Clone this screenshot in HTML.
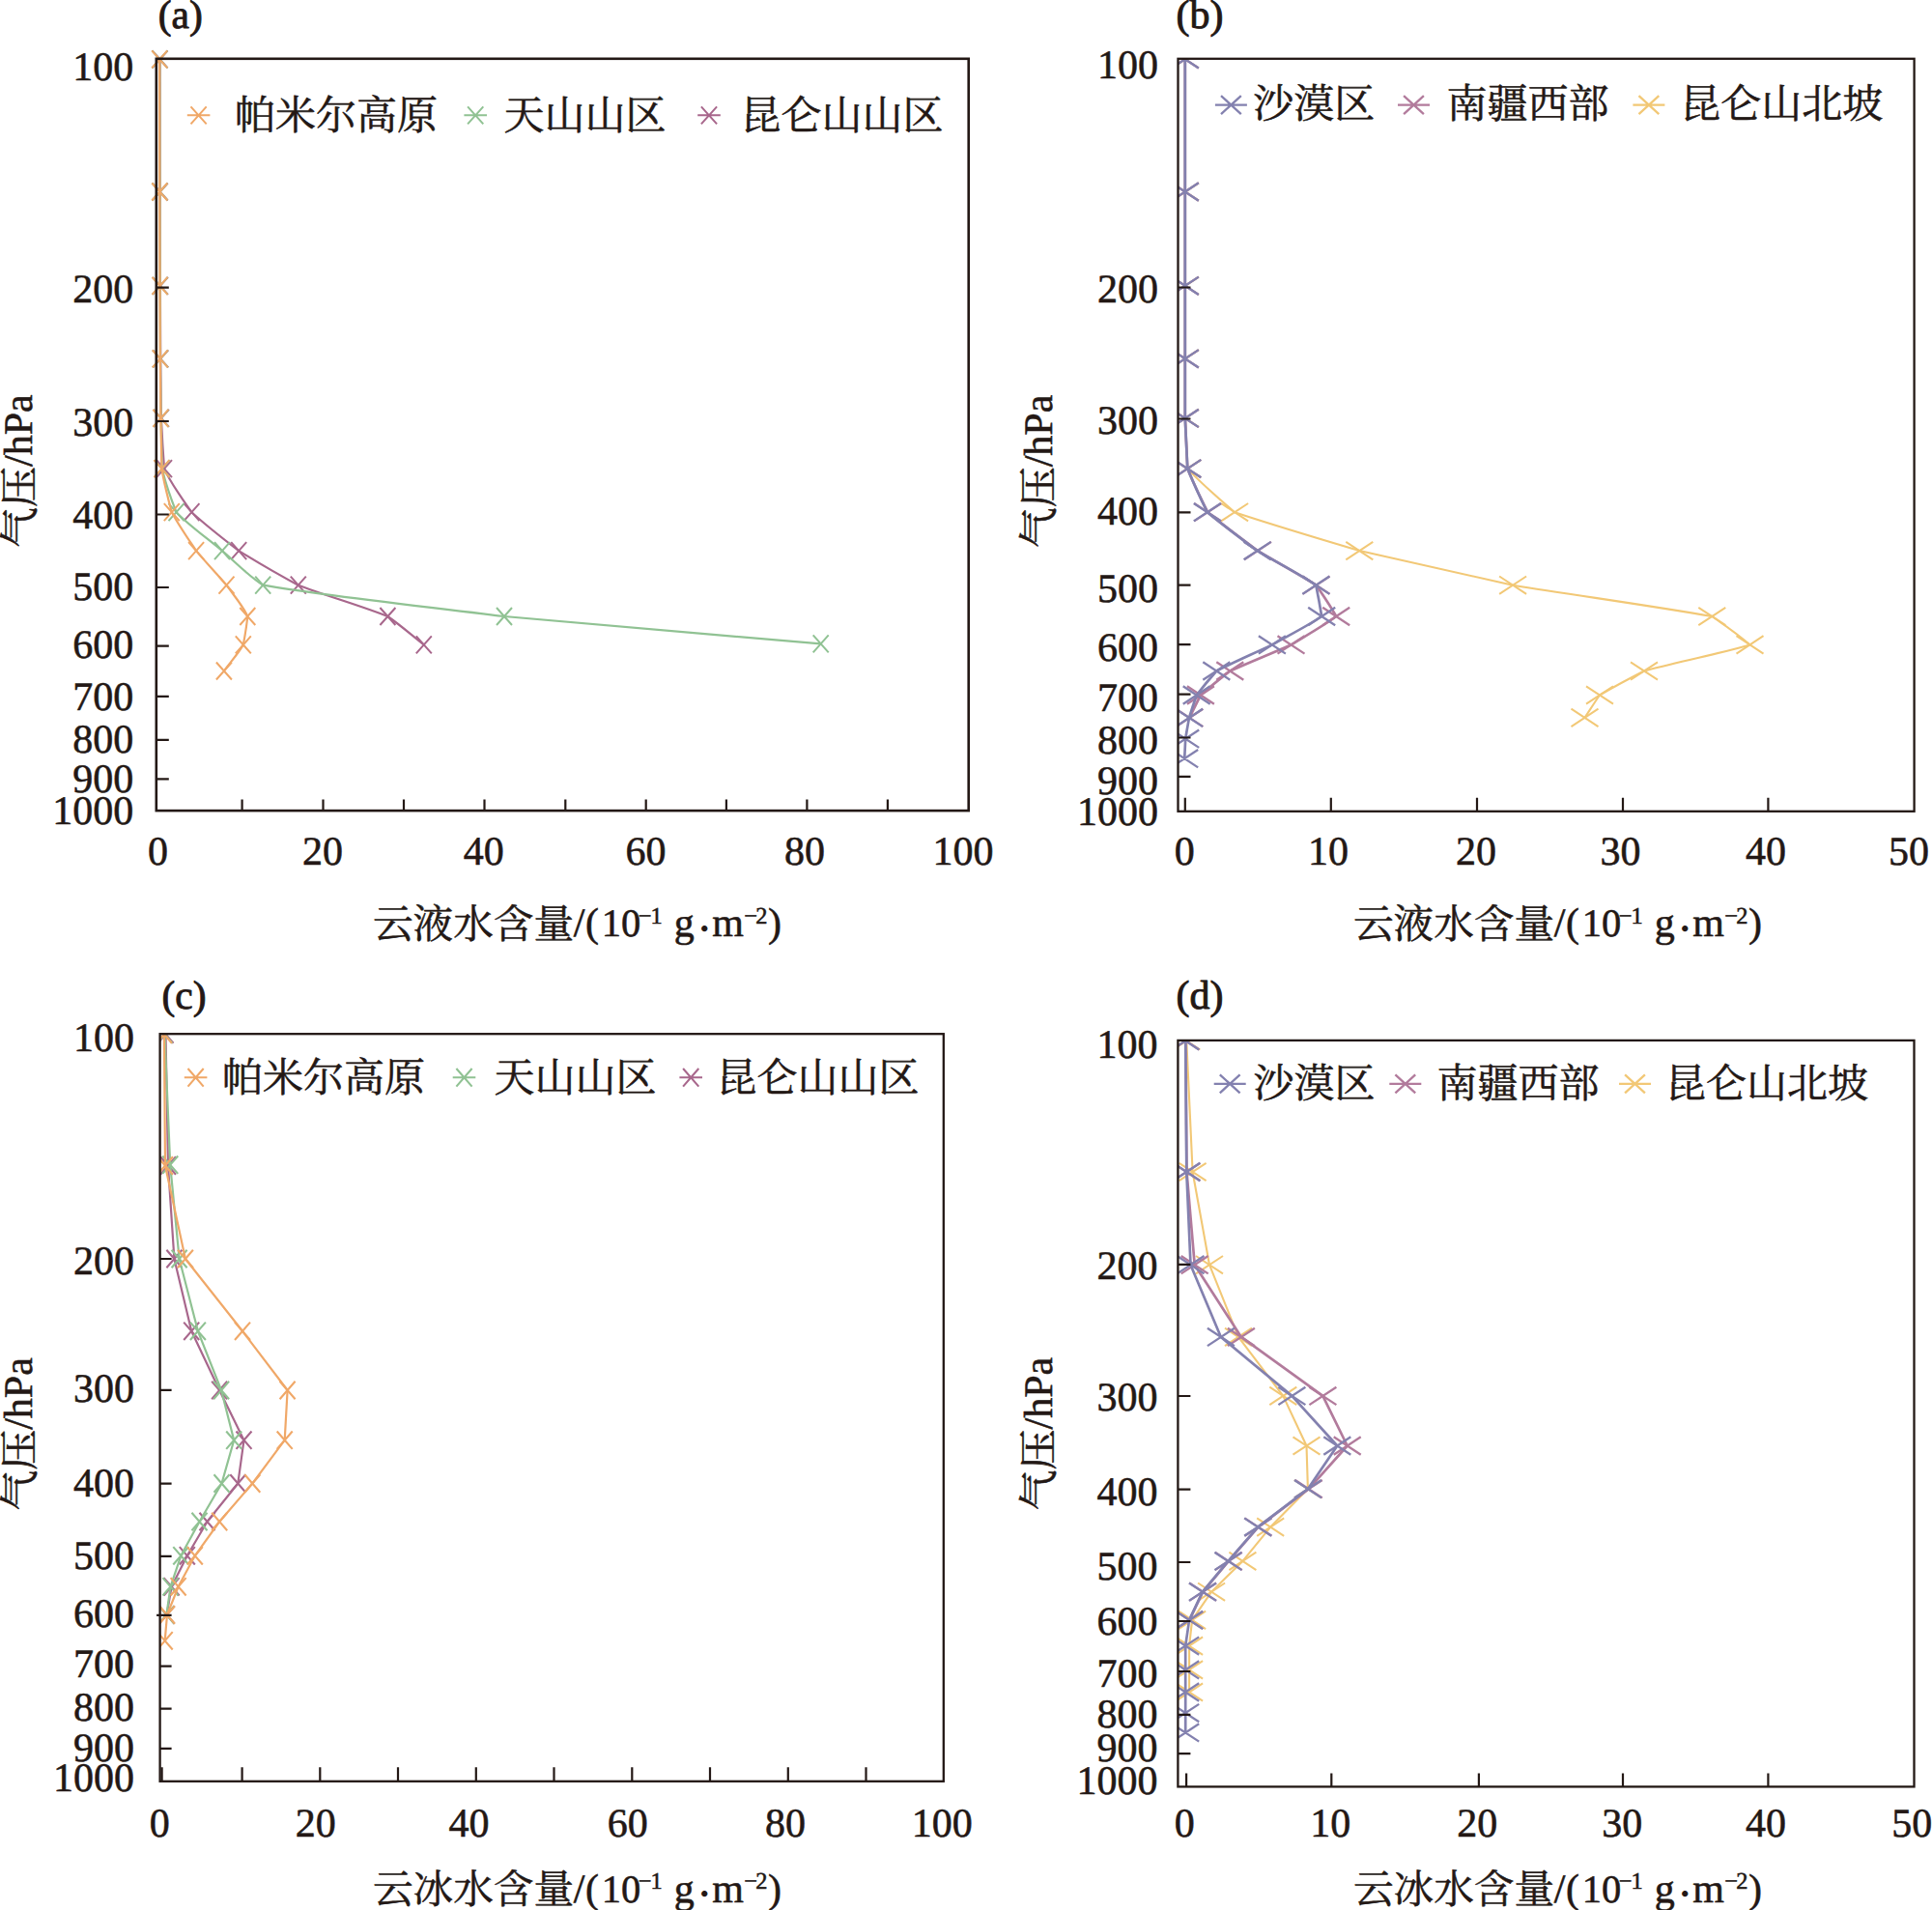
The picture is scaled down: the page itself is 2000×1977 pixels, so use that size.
<!DOCTYPE html>
<html lang="zh-CN"><head><meta charset="utf-8"><title>云液水含量与云冰水含量垂直廓线</title>
<style>html,body{margin:0;padding:0;background:#fff}body{width:2000px;height:1977px;overflow:hidden}svg{display:block}text{font-family:'Liberation Serif','Noto Serif CJK SC',serif;fill:#231815;stroke:#231815;stroke-width:0.55px;stroke-linejoin:round;text-rendering:geometricPrecision}</style></head><body>
<svg width="2000" height="1977" viewBox="0 0 2000 1977">
<rect width="2000" height="1977" fill="#fff"/>
<g id="panel-a">
<g>
<path d="M165.6 61.3 C165.6 107 165.7 152.7 165.7 198.5 C165.8 230.9 165.8 263.3 165.9 295.8 C166 320.9 166.1 346.1 166.2 371.3 C166.4 391.8 166.6 412.4 166.9 432.9 C167.7 450.3 168.7 467.7 170 485.1 C176.7 500.1 187.8 515.2 198.4 530.2 C212.9 543.5 229.9 556.8 247.2 570.1 C266.5 582 286.4 593.8 308.8 605.7 C337 616.5 374.7 627.2 401.4 638 C415.5 647.8 426.3 657.6 438.8 667.4" fill="none" stroke="#A8678C" stroke-width="2.2" stroke-linejoin="round"/>
<path d="M157.6 52.3L173.6 70.3M157.6 70.3L173.6 52.3M157.7 189.5L173.7 207.5M157.7 207.5L173.7 189.5M157.9 286.8L173.9 304.8M157.9 304.8L173.9 286.8M158.2 362.3L174.2 380.3M158.2 380.3L174.2 362.3M158.9 423.9L174.9 441.9M158.9 441.9L174.9 423.9M162 476.1L178 494.1M162 494.1L178 476.1M190.4 521.2L206.4 539.2M190.4 539.2L206.4 521.2M239.2 561.1L255.2 579.1M239.2 579.1L255.2 561.1M300.8 596.7L316.8 614.7M300.8 614.7L316.8 596.7M393.4 629L409.4 647M393.4 647L409.4 629M430.8 658.4L446.8 676.4M430.8 676.4L446.8 658.4" fill="none" stroke="#A8678C" stroke-width="2.0"/>
<path d="M165.4 61.3 C165.4 107 165.5 152.7 165.5 198.5 C165.6 230.9 165.6 263.3 165.7 295.8 C165.8 320.9 165.9 346.1 166 371.3 C166.2 391.8 166.4 412.4 166.6 432.9 C166.9 450.3 167.3 467.7 167.8 485.1 C171.2 500.1 176.6 515.2 182.5 530.2 C195.2 543.5 214.2 556.8 230 570.1 C244.1 582 254.4 593.8 272.2 605.7 C334.1 616.5 432.9 627.2 522 638 C623.9 647.4 740.5 656.9 849.7 666.4" fill="none" stroke="#90C293" stroke-width="2.2" stroke-linejoin="round"/>
<path d="M157.4 52.3L173.4 70.3M157.4 70.3L173.4 52.3M157.5 189.5L173.5 207.5M157.5 207.5L173.5 189.5M157.7 286.8L173.7 304.8M157.7 304.8L173.7 286.8M158 362.3L174 380.3M158 380.3L174 362.3M158.6 423.9L174.6 441.9M158.6 441.9L174.6 423.9M159.8 476.1L175.8 494.1M159.8 494.1L175.8 476.1M174.5 521.2L190.5 539.2M174.5 539.2L190.5 521.2M222 561.1L238 579.1M222 579.1L238 561.1M264.2 596.7L280.2 614.7M264.2 614.7L280.2 596.7M514 629L530 647M514 647L530 629M841.7 657.4L857.7 675.4M841.7 675.4L857.7 657.4" fill="none" stroke="#90C293" stroke-width="2.0"/>
<path d="M165.2 61.3 C165.2 107 165.3 152.7 165.3 198.5 C165.4 230.9 165.4 263.3 165.5 295.8 C165.6 320.9 165.7 346.1 165.8 371.3 C166 391.8 166.2 412.4 166.4 432.9 C166.7 450.3 167 467.7 167.4 485.1 C169.8 500.1 173.7 515.2 177.8 530.2 C184.9 543.5 194.2 556.8 203.1 570.1 C213 582 224.5 593.8 234.5 605.7 C242.1 616.5 251.6 627.2 256.3 638 C255.3 647.8 253.7 657.6 251.8 667.4 C246.7 676.4 238.5 685.5 231.9 694.5" fill="none" stroke="#F0A868" stroke-width="2.2" stroke-linejoin="round"/>
<path d="M157.2 52.3L173.2 70.3M157.2 70.3L173.2 52.3M157.3 189.5L173.3 207.5M157.3 207.5L173.3 189.5M157.5 286.8L173.5 304.8M157.5 304.8L173.5 286.8M157.8 362.3L173.8 380.3M157.8 380.3L173.8 362.3M158.4 423.9L174.4 441.9M158.4 441.9L174.4 423.9M159.4 476.1L175.4 494.1M159.4 494.1L175.4 476.1M169.8 521.2L185.8 539.2M169.8 539.2L185.8 521.2M195.1 561.1L211.1 579.1M195.1 579.1L211.1 561.1M226.5 596.7L242.5 614.7M226.5 614.7L242.5 596.7M248.3 629L264.3 647M248.3 647L264.3 629M243.8 658.4L259.8 676.4M243.8 676.4L259.8 658.4M223.9 685.5L239.9 703.5M223.9 703.5L239.9 685.5" fill="none" stroke="#F0A868" stroke-width="2.0"/>
</g>
<rect x="161.8" y="60.8" width="840.9" height="778.3" fill="none" stroke="#231815" stroke-width="2.6"/>
<path d="M161.8 297.7H174.8M161.8 436H174.8M161.8 532.5H174.8M161.8 608H174.8M161.8 668.7H174.8M161.8 720.8H174.8M161.8 765.9H174.8M161.8 806.3H174.8M250.6 839.1V827.5M334.5 839.1V827.5M418 839.1V827.5M501.5 839.1V827.5M585.3 839.1V827.5M668.7 839.1V827.5M751.9 839.1V827.5M835.4 839.1V827.5M918.9 839.1V827.5" fill="none" stroke="#231815" stroke-width="2.2"/>
<text x="138.3" y="83.1" font-size="42" text-anchor="end">100</text>
<text x="138.3" y="312.7" font-size="42" text-anchor="end">200</text>
<text x="138.3" y="451.2" font-size="42" text-anchor="end">300</text>
<text x="138.3" y="546.8" font-size="42" text-anchor="end">400</text>
<text x="138.3" y="621.1" font-size="42" text-anchor="end">500</text>
<text x="138.3" y="680.6" font-size="42" text-anchor="end">600</text>
<text x="138.3" y="735" font-size="42" text-anchor="end">700</text>
<text x="138.3" y="779.4" font-size="42" text-anchor="end">800</text>
<text x="138.3" y="819.6" font-size="42" text-anchor="end">900</text>
<text x="138.3" y="853.1" font-size="42" text-anchor="end">1000</text>
<text x="163.6" y="895.3" font-size="42" text-anchor="middle">0</text>
<text x="334" y="895.3" font-size="42" text-anchor="middle">20</text>
<text x="500.7" y="895.3" font-size="42" text-anchor="middle">40</text>
<text x="668.4" y="895.3" font-size="42" text-anchor="middle">60</text>
<text x="832.9" y="895.3" font-size="42" text-anchor="middle">80</text>
<text x="997.1" y="895.3" font-size="42" text-anchor="middle">100</text>
<text x="163.8" y="29.3" font-size="41.5" text-anchor="start" style="stroke-width:0.9px">(a)</text>
<text transform="translate(33.2 487.7) rotate(-90)" font-size="42" text-anchor="middle"><tspan dy="1.8">气压</tspan><tspan dy="-1.8">/hPa</tspan></text>
<text font-size="42"><tspan x="386" y="970.9" font-size="41.6">云液水含量</tspan><tspan x="593.8" y="969.4">/</tspan><tspan x="605.9">(</tspan><tspan x="622.8" font-size="40.5">10</tspan><tspan x="660.7" y="955.7" font-size="24.4">−</tspan><tspan x="673.5" font-size="24.4">1</tspan><tspan x="697.7" y="969.4">g</tspan><tspan x="722.2" y="975" stroke-width="1.3">·</tspan><tspan x="737.2" y="969.4">m</tspan><tspan x="770.2" y="955.7" font-size="24.4">−</tspan><tspan x="782.3" font-size="24.4">2</tspan><tspan x="795.1" y="969.4">)</tspan></text>
<path d="M193.8 119.3L217.4 119.3M197.5 110.3L213.7 128.3M197.5 128.3L213.7 110.3" fill="none" stroke="#F0A868" stroke-width="2.0"/>
<text x="243" y="133.5" font-size="42" text-anchor="start">帕米尔高原</text>
<path d="M480.4 119.3L504 119.3M484.1 110.3L500.3 128.3M484.1 128.3L500.3 110.3" fill="none" stroke="#90C293" stroke-width="2.0"/>
<text x="521.5" y="133.5" font-size="42" text-anchor="start">天山山区</text>
<path d="M722.2 119.3L745.8 119.3M725.9 110.3L742.1 128.3M725.9 128.3L742.1 110.3" fill="none" stroke="#A8678C" stroke-width="2.0"/>
<text x="766.5" y="133.5" font-size="42" text-anchor="start">昆仑山山区</text>
</g>
<g id="panel-b">
<clipPath id="clipb"><rect x="1219.5" y="60.8" width="762.1" height="819"/></clipPath>
<g clip-path="url(#clipb)">
<path d="M1226.9 61.3 C1226.9 107 1226.9 152.7 1226.9 198.5 C1226.9 230.9 1226.9 263.3 1226.9 295.8 C1226.9 320.9 1226.9 346.1 1226.9 371.3 C1226.9 391.8 1226.9 412.4 1226.9 432.9 C1227.6 450.3 1228.4 467.7 1229.3 485.1 C1243.3 500.1 1260.6 515.2 1278.1 530.2 C1318 543.5 1363.2 556.8 1407.3 570.1 C1459 582 1511.7 593.8 1566.1 605.7 C1633 616.5 1710.4 627.2 1772.3 638 C1786.6 647.8 1800.4 657.6 1811.5 667.4 C1780.5 676.4 1736.4 685.5 1702 694.5 C1685.8 702.8 1670.2 711.2 1656 719.5 C1650.5 727.3 1645.7 735.1 1640.5 742.9" fill="none" stroke="#F2C876" stroke-width="2.1" stroke-linejoin="round"/>
<path d="M1212.9 52.1L1240.9 70.5M1212.9 70.5L1240.9 52.1M1212.9 189.3L1240.9 207.7M1212.9 207.7L1240.9 189.3M1212.9 286.6L1240.9 305M1212.9 305L1240.9 286.6M1212.9 362.1L1240.9 380.5M1212.9 380.5L1240.9 362.1M1212.9 423.7L1240.9 442.1M1212.9 442.1L1240.9 423.7M1215.3 475.9L1243.3 494.3M1215.3 494.3L1243.3 475.9M1264.1 521L1292.1 539.4M1264.1 539.4L1292.1 521M1393.3 560.9L1421.3 579.3M1393.3 579.3L1421.3 560.9M1552.1 596.5L1580.1 614.9M1552.1 614.9L1580.1 596.5M1758.3 628.8L1786.3 647.2M1758.3 647.2L1786.3 628.8M1797.5 658.2L1825.5 676.6M1797.5 676.6L1825.5 658.2M1688 685.3L1716 703.7M1688 703.7L1716 685.3M1642 710.3L1670 728.7M1642 728.7L1670 710.3M1626.5 733.7L1654.5 752.1M1626.5 752.1L1654.5 733.7" fill="none" stroke="#F2C876" stroke-width="2.0"/>
<path d="M1226.8 61.3 C1226.8 107 1226.8 152.7 1226.8 198.5 C1226.8 230.9 1226.8 263.3 1226.8 295.8 C1226.8 320.9 1226.8 346.1 1226.8 371.3 C1226.8 391.8 1226.8 412.4 1226.8 432.9 C1227.5 450.3 1228.4 467.7 1229.3 485.1 C1235.4 500.1 1242.7 515.2 1250.2 530.2 C1266.2 543.5 1284.4 556.8 1302 570.1 C1321.8 582 1343.8 593.8 1362.6 605.7 C1369.9 616.5 1377.4 627.2 1383.2 638 C1370 647.8 1352.5 657.6 1336.5 667.4 C1316 676.4 1293.4 685.5 1273.3 694.5 C1262.7 702.8 1252.4 711.2 1242.9 719.5 C1238.8 727.3 1235.2 735.1 1231.4 742.9" fill="none" stroke="#B27B9C" stroke-width="2.7" stroke-linejoin="round"/>
<path d="M1212.8 52.1L1240.8 70.5M1212.8 70.5L1240.8 52.1M1212.8 189.3L1240.8 207.7M1212.8 207.7L1240.8 189.3M1212.8 286.6L1240.8 305M1212.8 305L1240.8 286.6M1212.8 362.1L1240.8 380.5M1212.8 380.5L1240.8 362.1M1212.8 423.7L1240.8 442.1M1212.8 442.1L1240.8 423.7M1215.3 475.9L1243.3 494.3M1215.3 494.3L1243.3 475.9M1236.2 521L1264.2 539.4M1236.2 539.4L1264.2 521M1288 560.9L1316 579.3M1288 579.3L1316 560.9M1348.6 596.5L1376.6 614.9M1348.6 614.9L1376.6 596.5M1369.2 628.8L1397.2 647.2M1369.2 647.2L1397.2 628.8M1322.5 658.2L1350.5 676.6M1322.5 676.6L1350.5 658.2M1259.3 685.3L1287.3 703.7M1259.3 703.7L1287.3 685.3M1228.9 710.3L1256.9 728.7M1228.9 728.7L1256.9 710.3M1217.4 733.7L1245.4 752.1M1217.4 752.1L1245.4 733.7" fill="none" stroke="#B27B9C" stroke-width="2.3"/>
<path d="M1226.8 61.3 C1226.8 107 1226.8 152.7 1226.8 198.5 C1226.8 230.9 1226.8 263.3 1226.8 295.8 C1226.8 320.9 1226.8 346.1 1226.8 371.3 C1226.8 391.8 1226.8 412.4 1226.8 432.9 C1227.5 450.3 1228.4 467.7 1229.3 485.1 C1235.3 500.1 1242.5 515.2 1249.8 530.2 C1265.8 543.5 1284 556.8 1301.6 570.1 C1321.4 582 1344.5 593.8 1362.3 605.7 C1364.5 616.5 1366.5 627.2 1368.2 638 C1353.7 647.8 1334.3 657.6 1316.9 667.4 C1298 676.4 1277.2 685.5 1259.3 694.5 C1252 702.8 1245.1 711.2 1238.7 719.5 C1236 727.3 1233.4 735.1 1231 742.9 C1229.7 750.2 1228.4 757.4 1227.2 764.7 C1226.8 771.6 1226.5 778.4 1226.2 785.2" fill="none" stroke="#8381AF" stroke-width="2.7" stroke-linejoin="round"/>
<path d="M1212.8 52.1L1240.8 70.5M1212.8 70.5L1240.8 52.1M1212.8 189.3L1240.8 207.7M1212.8 207.7L1240.8 189.3M1212.8 286.6L1240.8 305M1212.8 305L1240.8 286.6M1212.8 362.1L1240.8 380.5M1212.8 380.5L1240.8 362.1M1212.8 423.7L1240.8 442.1M1212.8 442.1L1240.8 423.7M1215.3 475.9L1243.3 494.3M1215.3 494.3L1243.3 475.9M1235.8 521L1263.8 539.4M1235.8 539.4L1263.8 521M1287.6 560.9L1315.6 579.3M1287.6 579.3L1315.6 560.9M1348.3 596.5L1376.3 614.9M1348.3 614.9L1376.3 596.5M1354.2 628.8L1382.2 647.2M1354.2 647.2L1382.2 628.8M1302.9 658.2L1330.9 676.6M1302.9 676.6L1330.9 658.2M1245.3 685.3L1273.3 703.7M1245.3 703.7L1273.3 685.3M1224.7 710.3L1252.7 728.7M1224.7 728.7L1252.7 710.3M1217 733.7L1245 752.1M1217 752.1L1245 733.7M1213.2 755.5L1241.2 773.9M1213.2 773.9L1241.2 755.5M1212.2 776L1240.2 794.4M1212.2 794.4L1240.2 776" fill="none" stroke="#8381AF" stroke-width="2.3"/>
</g>
<rect x="1219.5" y="60.8" width="762.1" height="779" fill="none" stroke="#231815" stroke-width="2.3"/>
<path d="M1219.5 297.5H1232.5M1219.5 433.5H1232.5M1219.5 530.4H1232.5M1219.5 605.6H1232.5M1219.5 667.2H1232.5M1219.5 718.7H1232.5M1219.5 763.5H1232.5M1219.5 803.9H1232.5M1226.8 839.8V825.8M1377.8 839.8V825.8M1529 839.8V825.8M1680 839.8V825.8M1830.4 839.8V825.8" fill="none" stroke="#231815" stroke-width="2.2"/>
<text x="1199" y="80.5" font-size="42" text-anchor="end">100</text>
<text x="1199" y="312.8" font-size="42" text-anchor="end">200</text>
<text x="1199" y="449.3" font-size="42" text-anchor="end">300</text>
<text x="1199" y="543.1" font-size="42" text-anchor="end">400</text>
<text x="1199" y="622.8" font-size="42" text-anchor="end">500</text>
<text x="1199" y="683.9" font-size="42" text-anchor="end">600</text>
<text x="1199" y="736.3" font-size="42" text-anchor="end">700</text>
<text x="1199" y="780.2" font-size="42" text-anchor="end">800</text>
<text x="1199" y="821.7" font-size="42" text-anchor="end">900</text>
<text x="1199" y="853.5" font-size="42" text-anchor="end">1000</text>
<text x="1226.2" y="895.3" font-size="42" text-anchor="middle">0</text>
<text x="1375" y="895.3" font-size="42" text-anchor="middle">10</text>
<text x="1527.9" y="895.3" font-size="42" text-anchor="middle">20</text>
<text x="1677.6" y="895.3" font-size="42" text-anchor="middle">30</text>
<text x="1827.9" y="895.3" font-size="42" text-anchor="middle">40</text>
<text x="1975.9" y="895.3" font-size="42" text-anchor="middle">50</text>
<text x="1217.5" y="29" font-size="42" text-anchor="start" style="stroke-width:0.9px">(b)</text>
<text transform="translate(1088.5 488) rotate(-90)" font-size="42" text-anchor="middle"><tspan dy="1.8">气压</tspan><tspan dy="-1.8">/hPa</tspan></text>
<text font-size="42"><tspan x="1401" y="970.9" font-size="41.6">云液水含量</tspan><tspan x="1608.8" y="969.4">/</tspan><tspan x="1620.9">(</tspan><tspan x="1637.8" font-size="40.5">10</tspan><tspan x="1675.7" y="955.7" font-size="24.4">−</tspan><tspan x="1688.5" font-size="24.4">1</tspan><tspan x="1712.7" y="969.4">g</tspan><tspan x="1737.2" y="975" stroke-width="1.3">·</tspan><tspan x="1752.2" y="969.4">m</tspan><tspan x="1785.2" y="955.7" font-size="24.4">−</tspan><tspan x="1797.3" font-size="24.4">2</tspan><tspan x="1810.1" y="969.4">)</tspan></text>
<path d="M1257.9 108.6L1290.9 108.6M1264 99.1L1284.8 118.1M1264 118.1L1284.8 99.1" fill="none" stroke="#8381AF" stroke-width="2.3"/>
<text x="1297.2" y="122.2" font-size="42" text-anchor="start">沙漠区</text>
<path d="M1447 108.6L1480 108.6M1453.1 99.1L1473.9 118.1M1453.1 118.1L1473.9 99.1" fill="none" stroke="#B27B9C" stroke-width="2.3"/>
<text x="1497.5" y="122.2" font-size="42" text-anchor="start">南疆西部</text>
<path d="M1690.4 108.6L1723.4 108.6M1696.5 99.1L1717.3 118.1M1696.5 118.1L1717.3 99.1" fill="none" stroke="#F2C876" stroke-width="2.3"/>
<text x="1739.3" y="122.2" font-size="42" text-anchor="start">昆仑山北坡</text>
</g>
<g id="panel-c">
<clipPath id="clipc"><rect x="165.6" y="1070.2" width="811.2" height="813.6"/></clipPath>
<g clip-path="url(#clipc)">
<path d="M171.5 1070.5 L174 1206.5 L180.4 1303 L198.2 1377.8 L227.2 1439 L252.5 1490.7 L246.3 1535.5 L214.5 1575 L193.8 1610.3 L177.6 1642.3 L172.6 1671.5" fill="none" stroke="#A8678C" stroke-width="2.2" stroke-linejoin="round"/>
<path d="M163.5 1061.3L179.5 1079.7M163.5 1079.7L179.5 1061.3M166 1197.3L182 1215.7M166 1215.7L182 1197.3M172.4 1293.8L188.4 1312.2M172.4 1312.2L188.4 1293.8M190.2 1368.6L206.2 1387M190.2 1387L206.2 1368.6M219.2 1429.8L235.2 1448.2M219.2 1448.2L235.2 1429.8M244.5 1481.5L260.5 1499.9M244.5 1499.9L260.5 1481.5M238.3 1526.3L254.3 1544.7M238.3 1544.7L254.3 1526.3M206.5 1565.8L222.5 1584.2M206.5 1584.2L222.5 1565.8M185.8 1601.1L201.8 1619.5M185.8 1619.5L201.8 1601.1M169.6 1633.1L185.6 1651.5M169.6 1651.5L185.6 1633.1M164.6 1662.3L180.6 1680.7M164.6 1680.7L180.6 1662.3" fill="none" stroke="#A8678C" stroke-width="2.1"/>
<path d="M170.5 1070.5 L176.2 1205.7 L185.6 1303 L204.9 1377.8 L229.1 1439 L242.2 1490.7 L229.5 1535.5 L206.5 1575 L187.3 1610.3 L176.5 1642.3 L172.4 1671.5" fill="none" stroke="#90C293" stroke-width="2.2" stroke-linejoin="round"/>
<path d="M162.5 1061.3L178.5 1079.7M162.5 1079.7L178.5 1061.3M168.2 1196.5L184.2 1214.9M168.2 1214.9L184.2 1196.5M177.6 1293.8L193.6 1312.2M177.6 1312.2L193.6 1293.8M196.9 1368.6L212.9 1387M196.9 1387L212.9 1368.6M221.1 1429.8L237.1 1448.2M221.1 1448.2L237.1 1429.8M234.2 1481.5L250.2 1499.9M234.2 1499.9L250.2 1481.5M221.5 1526.3L237.5 1544.7M221.5 1544.7L237.5 1526.3M198.5 1565.8L214.5 1584.2M198.5 1584.2L214.5 1565.8M179.3 1601.1L195.3 1619.5M179.3 1619.5L195.3 1601.1M168.5 1633.1L184.5 1651.5M168.5 1651.5L184.5 1633.1M164.4 1662.3L180.4 1680.7M164.4 1680.7L180.4 1662.3" fill="none" stroke="#90C293" stroke-width="2.1"/>
<path d="M169.9 1070.5 L171 1206.5 L191.9 1303 L251 1377.8 L297.6 1439 L294.7 1490.7 L261.3 1535.5 L227.2 1575 L201.8 1610.3 L184.6 1642.3 L173 1671.5 L170.7 1698.3" fill="none" stroke="#F0A868" stroke-width="2.2" stroke-linejoin="round"/>
<path d="M161.9 1061.3L177.9 1079.7M161.9 1079.7L177.9 1061.3M163 1197.3L179 1215.7M163 1215.7L179 1197.3M183.9 1293.8L199.9 1312.2M183.9 1312.2L199.9 1293.8M243 1368.6L259 1387M243 1387L259 1368.6M289.6 1429.8L305.6 1448.2M289.6 1448.2L305.6 1429.8M286.7 1481.5L302.7 1499.9M286.7 1499.9L302.7 1481.5M253.3 1526.3L269.3 1544.7M253.3 1544.7L269.3 1526.3M219.2 1565.8L235.2 1584.2M219.2 1584.2L235.2 1565.8M193.8 1601.1L209.8 1619.5M193.8 1619.5L209.8 1601.1M176.6 1633.1L192.6 1651.5M176.6 1651.5L192.6 1633.1M165 1662.3L181 1680.7M165 1680.7L181 1662.3M162.7 1689.1L178.7 1707.5M162.7 1707.5L178.7 1689.1" fill="none" stroke="#F0A868" stroke-width="2.1"/>
</g>
<rect x="165.6" y="1070.2" width="811.2" height="773.6" fill="none" stroke="#231815" stroke-width="2.3"/>
<path d="M165.6 1303H177.6M165.6 1438.9H177.6M165.6 1535.7H177.6M165.6 1610.8H177.6M162.1 1671.8H177.6M165.6 1724.6H177.6M165.6 1768.6H177.6M165.6 1809.9H177.6M167.6 1843.8V1829.3M250.6 1843.8V1829.3M331.3 1843.8V1829.3M412 1843.8V1829.3M492.8 1843.8V1829.3M573.5 1843.8V1829.3M654.3 1843.8V1829.3M735 1843.8V1829.3M815.8 1843.8V1829.3M896.5 1843.8V1829.3" fill="none" stroke="#231815" stroke-width="2.2"/>
<text x="139" y="1088" font-size="42" text-anchor="end">100</text>
<text x="139" y="1318.6" font-size="42" text-anchor="end">200</text>
<text x="139" y="1451" font-size="42" text-anchor="end">300</text>
<text x="139" y="1549" font-size="42" text-anchor="end">400</text>
<text x="139" y="1624.1" font-size="42" text-anchor="end">500</text>
<text x="139" y="1683.8" font-size="42" text-anchor="end">600</text>
<text x="139" y="1736.1" font-size="42" text-anchor="end">700</text>
<text x="139" y="1781.2" font-size="42" text-anchor="end">800</text>
<text x="139" y="1822.6" font-size="42" text-anchor="end">900</text>
<text x="139" y="1854" font-size="42" text-anchor="end">1000</text>
<text x="165.3" y="1900.8" font-size="42" text-anchor="middle">0</text>
<text x="326.8" y="1900.8" font-size="42" text-anchor="middle">20</text>
<text x="485.4" y="1900.8" font-size="42" text-anchor="middle">40</text>
<text x="649.7" y="1900.8" font-size="42" text-anchor="middle">60</text>
<text x="813" y="1900.8" font-size="42" text-anchor="middle">80</text>
<text x="975.3" y="1900.8" font-size="42" text-anchor="middle">100</text>
<text x="167.5" y="1043.5" font-size="41.5" text-anchor="start" style="stroke-width:0.9px">(c)</text>
<text transform="translate(33.2 1484.5) rotate(-90)" font-size="42" text-anchor="middle"><tspan dy="1.8">气压</tspan><tspan dy="-1.8">/hPa</tspan></text>
<text font-size="42"><tspan x="386" y="1970.3" font-size="41.6">云冰水含量</tspan><tspan x="593.8" y="1968.8">/</tspan><tspan x="605.9">(</tspan><tspan x="622.8" font-size="40.5">10</tspan><tspan x="660.7" y="1955.1" font-size="24.4">−</tspan><tspan x="673.5" font-size="24.4">1</tspan><tspan x="697.7" y="1968.8">g</tspan><tspan x="722.2" y="1974.4" stroke-width="1.3">·</tspan><tspan x="737.2" y="1968.8">m</tspan><tspan x="770.2" y="1955.1" font-size="24.4">−</tspan><tspan x="782.3" font-size="24.4">2</tspan><tspan x="795.1" y="1968.8">)</tspan></text>
<path d="M190.8 1115.3L214.4 1115.3M194.5 1106L210.7 1124.6M194.5 1124.6L210.7 1106" fill="none" stroke="#F0A868" stroke-width="2.1"/>
<text x="230" y="1129.5" font-size="42" text-anchor="start">帕米尔高原</text>
<path d="M468.7 1115.3L492.3 1115.3M472.4 1106L488.6 1124.6M472.4 1124.6L488.6 1106" fill="none" stroke="#90C293" stroke-width="2.1"/>
<text x="511.5" y="1129.5" font-size="42" text-anchor="start">天山山区</text>
<path d="M703.4 1115.3L727 1115.3M707.1 1106L723.3 1124.6M707.1 1124.6L723.3 1106" fill="none" stroke="#A8678C" stroke-width="2.1"/>
<text x="741.5" y="1129.5" font-size="42" text-anchor="start">昆仑山山区</text>
</g>
<g id="panel-d">
<clipPath id="clipd"><rect x="1219.4" y="1076.9" width="762.1" height="812.5"/></clipPath>
<g clip-path="url(#clipd)">
<path d="M1228.3 1077.3 L1234.6 1213 L1252 1309.2 L1282 1383.9 L1328.3 1444.9 L1352.5 1496.5 L1353.9 1541.2 L1315.2 1580.6 L1286.4 1615.9 L1254.1 1647.7 L1234.1 1676.9 L1231.1 1703.6 L1231.1 1728.4 L1231.1 1751.5" fill="none" stroke="#F2C876" stroke-width="2.1" stroke-linejoin="round"/>
<path d="M1214.3 1068.1L1242.3 1086.5M1214.3 1086.5L1242.3 1068.1M1220.6 1203.8L1248.6 1222.2M1220.6 1222.2L1248.6 1203.8M1238 1300L1266 1318.4M1238 1318.4L1266 1300M1268 1374.7L1296 1393.1M1268 1393.1L1296 1374.7M1314.3 1435.7L1342.3 1454.1M1314.3 1454.1L1342.3 1435.7M1338.5 1487.3L1366.5 1505.7M1338.5 1505.7L1366.5 1487.3M1339.9 1532L1367.9 1550.4M1339.9 1550.4L1367.9 1532M1301.2 1571.4L1329.2 1589.8M1301.2 1589.8L1329.2 1571.4M1272.4 1606.7L1300.4 1625.1M1272.4 1625.1L1300.4 1606.7M1240.1 1638.5L1268.1 1656.9M1240.1 1656.9L1268.1 1638.5M1220.1 1667.7L1248.1 1686.1M1220.1 1686.1L1248.1 1667.7M1217.1 1694.4L1245.1 1712.8M1217.1 1712.8L1245.1 1694.4M1217.1 1719.2L1245.1 1737.6M1217.1 1737.6L1245.1 1719.2M1217.1 1742.3L1245.1 1760.7M1217.1 1760.7L1245.1 1742.3" fill="none" stroke="#F2C876" stroke-width="2.0"/>
<path d="M1227.4 1077.3 L1228.5 1213 L1236.7 1309.2 L1284.9 1383.9 L1369.4 1444.9 L1394.7 1496.5 L1354.8 1541.2 L1302.5 1580.6 L1271.8 1615.9 L1245.2 1647.7 L1231.3 1676.9" fill="none" stroke="#B27B9C" stroke-width="2.7" stroke-linejoin="round"/>
<path d="M1213.4 1068.1L1241.4 1086.5M1213.4 1086.5L1241.4 1068.1M1214.5 1203.8L1242.5 1222.2M1214.5 1222.2L1242.5 1203.8M1222.7 1300L1250.7 1318.4M1222.7 1318.4L1250.7 1300M1270.9 1374.7L1298.9 1393.1M1270.9 1393.1L1298.9 1374.7M1355.4 1435.7L1383.4 1454.1M1355.4 1454.1L1383.4 1435.7M1380.7 1487.3L1408.7 1505.7M1380.7 1505.7L1408.7 1487.3M1340.8 1532L1368.8 1550.4M1340.8 1550.4L1368.8 1532M1288.5 1571.4L1316.5 1589.8M1288.5 1589.8L1316.5 1571.4M1257.8 1606.7L1285.8 1625.1M1257.8 1625.1L1285.8 1606.7M1231.2 1638.5L1259.2 1656.9M1231.2 1656.9L1259.2 1638.5M1217.3 1667.7L1245.3 1686.1M1217.3 1686.1L1245.3 1667.7" fill="none" stroke="#B27B9C" stroke-width="2.3"/>
<path d="M1227.2 1077.3 L1228.3 1213 L1232.5 1309.2 L1263.9 1383.9 L1337.4 1444.9 L1384.3 1496.5 L1353.9 1541.2 L1302.1 1580.6 L1271.4 1615.9 L1244.9 1647.7 L1231.1 1676.9 L1227.2 1703.6 L1227.2 1728.4 L1227.2 1751.5 L1227.2 1773.1 L1227.2 1793.4" fill="none" stroke="#8381AF" stroke-width="2.7" stroke-linejoin="round"/>
<path d="M1213.2 1068.1L1241.2 1086.5M1213.2 1086.5L1241.2 1068.1M1214.3 1203.8L1242.3 1222.2M1214.3 1222.2L1242.3 1203.8M1218.5 1300L1246.5 1318.4M1218.5 1318.4L1246.5 1300M1249.9 1374.7L1277.9 1393.1M1249.9 1393.1L1277.9 1374.7M1323.4 1435.7L1351.4 1454.1M1323.4 1454.1L1351.4 1435.7M1370.3 1487.3L1398.3 1505.7M1370.3 1505.7L1398.3 1487.3M1339.9 1532L1367.9 1550.4M1339.9 1550.4L1367.9 1532M1288.1 1571.4L1316.1 1589.8M1288.1 1589.8L1316.1 1571.4M1257.4 1606.7L1285.4 1625.1M1257.4 1625.1L1285.4 1606.7M1230.9 1638.5L1258.9 1656.9M1230.9 1656.9L1258.9 1638.5M1217.1 1667.7L1245.1 1686.1M1217.1 1686.1L1245.1 1667.7M1213.2 1694.4L1241.2 1712.8M1213.2 1712.8L1241.2 1694.4M1213.2 1719.2L1241.2 1737.6M1213.2 1737.6L1241.2 1719.2M1213.2 1742.3L1241.2 1760.7M1213.2 1760.7L1241.2 1742.3M1213.2 1763.9L1241.2 1782.3M1213.2 1782.3L1241.2 1763.9M1213.2 1784.2L1241.2 1802.6M1213.2 1802.6L1241.2 1784.2" fill="none" stroke="#8381AF" stroke-width="2.3"/>
</g>
<rect x="1219.4" y="1076.9" width="762.1" height="772.5" fill="none" stroke="#231815" stroke-width="2.3"/>
<path d="M1219.4 1308.9H1232.4M1219.4 1445H1232.4M1219.4 1541.7H1232.4M1219.4 1617H1232.4M1219.4 1678H1232.4M1219.4 1730H1232.4M1219.4 1774.8H1232.4M1219.4 1815.2H1232.4M1228.1 1849.4V1835.4M1378.3 1849.4V1835.4M1530.9 1849.4V1835.4M1680 1849.4V1835.4M1830.4 1849.4V1835.4" fill="none" stroke="#231815" stroke-width="2.2"/>
<text x="1198.5" y="1094.8" font-size="42" text-anchor="end">100</text>
<text x="1198.5" y="1323.7" font-size="42" text-anchor="end">200</text>
<text x="1198.5" y="1460.2" font-size="42" text-anchor="end">300</text>
<text x="1198.5" y="1558.2" font-size="42" text-anchor="end">400</text>
<text x="1198.5" y="1634.7" font-size="42" text-anchor="end">500</text>
<text x="1198.5" y="1692.2" font-size="42" text-anchor="end">600</text>
<text x="1198.5" y="1745.6" font-size="42" text-anchor="end">700</text>
<text x="1198.5" y="1788.1" font-size="42" text-anchor="end">800</text>
<text x="1198.5" y="1822.6" font-size="42" text-anchor="end">900</text>
<text x="1198.5" y="1857.2" font-size="42" text-anchor="end">1000</text>
<text x="1226.2" y="1900.8" font-size="42" text-anchor="middle">0</text>
<text x="1377.3" y="1900.8" font-size="42" text-anchor="middle">10</text>
<text x="1529.3" y="1900.8" font-size="42" text-anchor="middle">20</text>
<text x="1679.3" y="1900.8" font-size="42" text-anchor="middle">30</text>
<text x="1827.9" y="1900.8" font-size="42" text-anchor="middle">40</text>
<text x="1979.3" y="1900.8" font-size="42" text-anchor="middle">50</text>
<text x="1217.5" y="1044.3" font-size="42" text-anchor="start" style="stroke-width:0.9px">(d)</text>
<text transform="translate(1088.5 1484.2) rotate(-90)" font-size="42" text-anchor="middle"><tspan dy="1.8">气压</tspan><tspan dy="-1.8">/hPa</tspan></text>
<text font-size="42"><tspan x="1401" y="1970.3" font-size="41.6">云冰水含量</tspan><tspan x="1608.8" y="1968.8">/</tspan><tspan x="1620.9">(</tspan><tspan x="1637.8" font-size="40.5">10</tspan><tspan x="1675.7" y="1955.1" font-size="24.4">−</tspan><tspan x="1688.5" font-size="24.4">1</tspan><tspan x="1712.7" y="1968.8">g</tspan><tspan x="1737.2" y="1974.4" stroke-width="1.3">·</tspan><tspan x="1752.2" y="1968.8">m</tspan><tspan x="1785.2" y="1955.1" font-size="24.4">−</tspan><tspan x="1797.3" font-size="24.4">2</tspan><tspan x="1810.1" y="1968.8">)</tspan></text>
<path d="M1256.7 1121.8L1289.7 1121.8M1262.8 1112.3L1283.6 1131.3M1262.8 1131.3L1283.6 1112.3" fill="none" stroke="#8381AF" stroke-width="2.3"/>
<text x="1297.6" y="1136.2" font-size="42" text-anchor="start">沙漠区</text>
<path d="M1438.3 1121.8L1471.3 1121.8M1444.4 1112.3L1465.2 1131.3M1444.4 1131.3L1465.2 1112.3" fill="none" stroke="#B27B9C" stroke-width="2.3"/>
<text x="1487.5" y="1136.2" font-size="42" text-anchor="start">南疆西部</text>
<path d="M1676 1121.8L1709 1121.8M1682.1 1112.3L1702.9 1131.3M1682.1 1131.3L1702.9 1112.3" fill="none" stroke="#F2C876" stroke-width="2.3"/>
<text x="1724" y="1136.2" font-size="42" text-anchor="start">昆仑山北坡</text>
</g>
</svg></body></html>
